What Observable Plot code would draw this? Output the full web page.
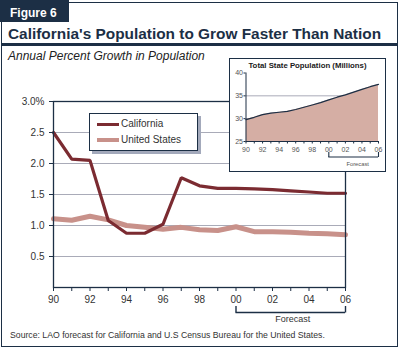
<!DOCTYPE html>
<html><head><meta charset="utf-8">
<script src="https://cdn.jsdelivr.net/npm/d3@7"></script>
<script src="https://cdn.jsdelivr.net/npm/@observablehq/plot@0.6"></script>
<style>
html,body{margin:0;padding:0;background:#fff;}
#wrap{position:relative;width:399px;height:348px;overflow:hidden;font-family:"Liberation Sans",Arial,sans-serif;}
.abs{position:absolute;white-space:nowrap;}
</style></head><body>
<div id="wrap"></div>
<script>
// ---- data ----
const years = [1990,1991,1992,1993,1994,1995,1996,1997,1998,1999,2000,2001,2002,2003,2004,2005,2006];
const california   = [2.50,2.07,2.05,1.08,0.875,0.875,1.02,1.77,1.64,1.60,1.60,1.59,1.58,1.56,1.54,1.52,1.52];
const unitedStates = [1.11,1.085,1.15,1.09,1.00,0.97,0.94,0.97,0.93,0.92,0.98,0.90,0.90,0.89,0.875,0.865,0.85];
const statePop     = [29.8,30.3,30.9,31.2,31.4,31.6,32.0,32.5,33.0,33.5,34.1,34.7,35.2,35.8,36.4,37.0,37.5];
const seriesNames = ["California","United States"];
const yTicks = [0.5,1,1.5,2,2.5,3];
const yTickLabels = ["0.5","1.0","1.5","2.0","2.5","3.0%"];
const insetTicks = [25,30,35,40];
const forecastSpan = [2000,2006];
const titleText = "California's Population to Grow Faster Than Nation";
const figLabel = "Figure 6";
const subtitleText = "Annual Percent Growth in Population";
const insetTitle = "Total State Population (Millions)";
const forecastLabel = "Forecast";
const sourceText = "Source: LAO forecast for California and U.S Census Bureau for the United States.";

// ---- styles ----
const NAVY = "#1c2f45";
const CA = "#7b2b31";
const US = "#c8918a";
const GRID = "#a9abb8";
const FILL = "#d5aea4";
const FONT = "'Liberation Sans', Arial, sans-serif";

const wrap = document.getElementById("wrap");
function add(html){ wrap.insertAdjacentHTML("beforeend", html); }
const yrLabel = d => (d % 2 ? "" : String(d).slice(2));

// frame + header
add(`<div class="abs" style="left:1px;top:2px;width:397px;height:345px;border:1px solid ${NAVY};box-sizing:border-box"></div>`);
add(`<div class="abs" style="left:0;top:0;width:69px;height:22px;background:${NAVY}"></div>`);
add(`<div class="abs" style="left:10px;top:${17.5-0.8465*12}px;font-size:12px;line-height:12px;font-weight:bold;color:#fff">${figLabel}</div>`);
add(`<div class="abs" style="left:8px;top:${39.5-0.8465*15.4}px;font-size:15.4px;line-height:15.4px;font-weight:bold;color:${NAVY}">${titleText}</div>`);
add(`<div class="abs" style="left:1px;top:43px;width:397px;height:3px;background:${NAVY}"></div>`);
add(`<div class="abs" style="left:8px;top:${60.3-0.8465*12}px;font-size:12px;line-height:12px;font-style:italic;color:#222">${subtitleText}</div>`);

// ---- main chart ----
const rows = years.flatMap((yr,i)=>[
  {year:yr, value:california[i], series:seriesNames[0]},
  {year:yr, value:unitedStates[i], series:seriesNames[1]}
]);
const main = Plot.plot({
  width:399, height:348,
  marginLeft:53, marginRight:54, marginTop:101, marginBottom:61,
  style:{background:"transparent", fontFamily:FONT, fontSize:"10px", color:"#333", overflow:"visible"},
  x:{domain:[1990,2006]},
  y:{domain:[0,3]},
  marks:[
    Plot.gridY(yTicks.slice(0,-1), {stroke:GRID, strokeOpacity:1}),
    Plot.line(rows.filter(d=>d.series===seriesNames[1]), {x:"year", y:"value", stroke:US, strokeWidth:5, strokeLinejoin:"miter"}),
    Plot.line(rows.filter(d=>d.series===seriesNames[0]), {x:"year", y:"value", stroke:CA, strokeWidth:3.2, strokeLinejoin:"miter"}),
    Plot.frame({stroke:NAVY, strokeWidth:1.3}),
    Plot.axisY(yTicks, {tickSize:4, tickPadding:5, stroke:NAVY, tickFormat:d=>yTickLabels[yTicks.indexOf(d)], label:null}),
    Plot.axisX(years, {tickSize:4, tickPadding:4.5, stroke:NAVY, tickFormat:yrLabel, label:null}),
    Plot.ruleY([0], {x1:forecastSpan[0], x2:forecastSpan[1], dy:25, stroke:NAVY, strokeWidth:1.4}),
    Plot.ruleX(forecastSpan, {y1:0, y2:0, insetTop:19, insetBottom:-25.5, stroke:NAVY, strokeWidth:1.4}),
    Plot.text([forecastLabel], {x:()=> (forecastSpan[0]+forecastSpan[1])/2, y:()=>0, text:d=>d, dy:32, dx:2, fontSize:9, fill:"#333"})
  ]
});
main.style.position="absolute"; main.style.left="0px"; main.style.top="0px";
wrap.appendChild(main);

// legend
add(`<div class="abs" style="left:89px;top:113px;width:109px;height:38px;border:1px solid ${NAVY};box-sizing:border-box;background:#fff;box-shadow:3px 3px 0 #a3a9bb"></div>`);
add(`<div class="abs" style="left:97px;top:122.5px;width:22px;height:3.3px;background:${CA}"></div>`);
add(`<div class="abs" style="left:97px;top:137.8px;width:22px;height:4.5px;background:${US}"></div>`);
add(`<div class="abs" style="left:121px;top:${127.6-0.8465*10}px;font-size:10px;line-height:10px;color:#333">${seriesNames[0]}</div>`);
add(`<div class="abs" style="left:121px;top:${143.8-0.8465*10}px;font-size:10px;line-height:10px;color:#333">${seriesNames[1]}</div>`);

// ---- inset ----
add(`<div class="abs" style="left:229px;top:58px;width:157px;height:114px;border:1px solid ${NAVY};box-sizing:border-box;background:#fff"></div>`);
const popRows = years.map((yr,i)=>({year:yr, pop:statePop[i]}));
const inset = Plot.plot({
  width:157, height:114,
  marginLeft:16.5, marginRight:8, marginTop:14.5, marginBottom:31,
  style:{background:"transparent", fontFamily:FONT, fontSize:"7px", color:"#555", overflow:"visible"},
  x:{domain:[1990,2006]},
  y:{domain:[25,40]},
  marks:[
    Plot.gridY([30,35], {stroke:GRID, strokeOpacity:1}),
    Plot.areaY(popRows, {x:"year", y:"pop", fill:FILL, clip:true}),
    Plot.lineY(popRows, {x:"year", y:"pop", stroke:NAVY, strokeWidth:1.2}),
    Plot.ruleX([1990], {stroke:NAVY}),
    Plot.ruleY([25], {stroke:NAVY}),
    Plot.axisY(insetTicks, {tickSize:2, tickPadding:1, stroke:NAVY, label:null}),
    Plot.axisX(years, {tickSize:2.5, tickPadding:3.5, stroke:NAVY, tickFormat:yrLabel, label:null}),
    Plot.ruleY([25], {x1:forecastSpan[0], x2:forecastSpan[1], dy:15.5, stroke:NAVY, strokeWidth:1.1}),
    Plot.ruleX(forecastSpan, {y1:25, y2:25, insetTop:11, insetBottom:-16, stroke:NAVY, strokeWidth:1.1}),
    Plot.text([forecastLabel], {x:()=> (forecastSpan[0]+forecastSpan[1])/2, y:()=>25, text:d=>d, dy:22.3, dx:4, fontSize:5.8, fill:"#555"})
  ]
});
inset.style.position="absolute"; inset.style.left="229px"; inset.style.top="58px";
wrap.appendChild(inset);
add(`<div class="abs" style="left:229px;width:157px;text-align:center;top:${68.5-0.8465*7.8}px;font-size:7.8px;line-height:7.8px;font-weight:bold;color:#1a1a1a">${insetTitle}</div>`);

// source
add(`<div class="abs" style="left:10px;top:${338-0.8465*8.7}px;font-size:8.7px;line-height:8.7px;color:#333">${sourceText}</div>`);
</script>
</body></html>
